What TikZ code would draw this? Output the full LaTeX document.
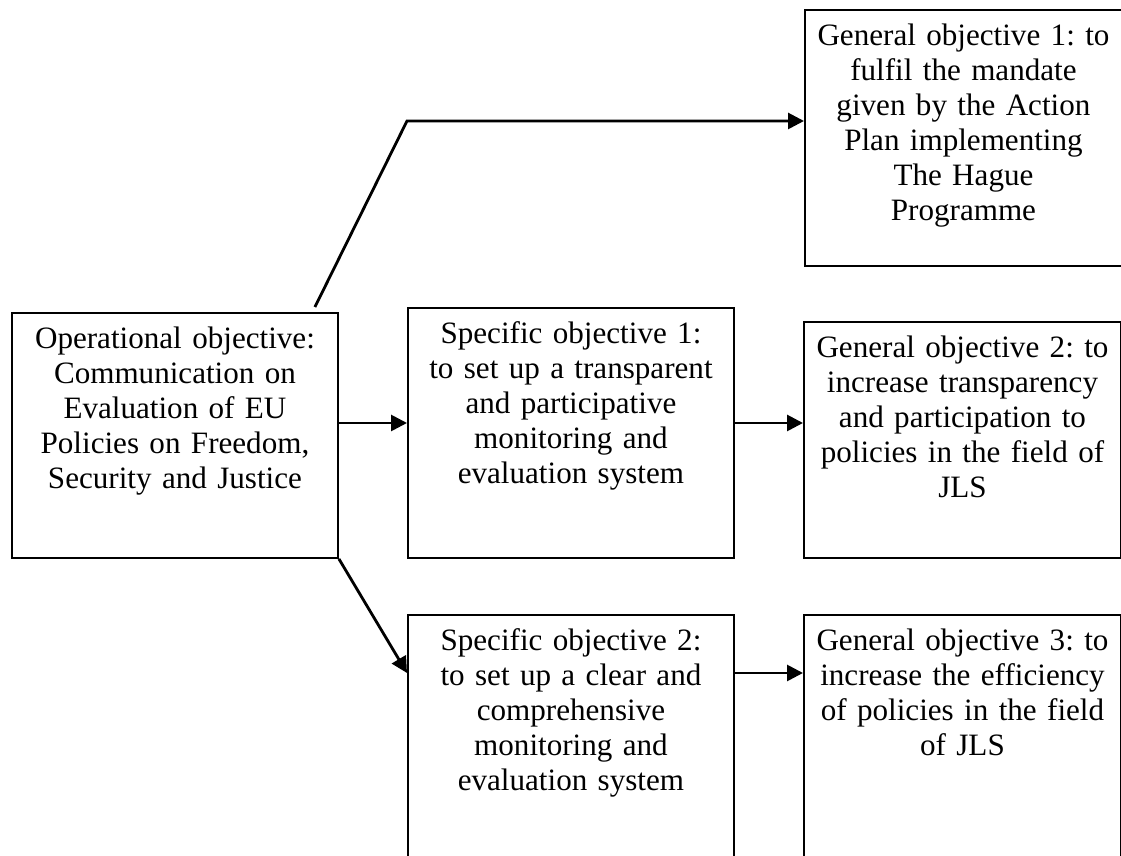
\documentclass[tikz,border=0pt]{standalone}
\usepackage{fontspec}
\setmainfont{Liberation Serif}
\usetikzlibrary{arrows.meta}
\frenchspacing

\begin{document}
\begin{tikzpicture}[
    font=\fontsize{17.7pt}{19.9pt}\selectfont,
    box/.style={draw, line width=1.1pt, align=center, text width=6.52cm, inner sep=0pt, anchor=north west, text height=0.72cm},
    genbox/.style={box, text width=6.34cm},
    arr/.style={line width=1.6pt, -{Triangle[length=0.32cm,width=0.32cm]}}
  ]
  \useasboundingbox (0,0) rectangle (22.42,17.12);
  \clip (0,0) rectangle (22.42,17.12);

  \node[box, text depth=4.18cm] (op) at (0.22,10.88) {Operational objective:\\Communication on\\Evaluation of EU\\Policies on Freedom,\\Security and Justice};
  \node[box, text depth=4.28cm] (sp1) at (8.14,10.98) {Specific objective 1:\\to set up a transparent\\and participative\\monitoring and\\evaluation system};
  \node[box, text depth=4.5cm] (sp2) at (8.14,4.84) {Specific objective 2:\\to set up a clear and\\comprehensive\\monitoring and\\evaluation system};

  \node[genbox, text depth=4.40cm] (gen1) at (16.08,16.94) {General objective 1: to\\fulfil the mandate\\given by the Action\\Plan implementing\\The Hague\\Programme};
  \node[genbox, text depth=4.00cm] (gen2) at (16.06,10.70) {General objective 2: to\\increase transparency\\and participation to\\policies in the field of\\JLS};
  \node[genbox, text depth=4.5cm] (gen3) at (16.06,4.84) {General objective 3: to\\increase the efficiency\\of policies in the field\\of JLS};

  \coordinate (bend) at (8.14,14.70);
  \coordinate (mid) at (0,8.66);
  \coordinate (low) at (0,3.66);

  \draw[arr] (op.north east) ++(-0.48,0.1) -- (bend) -- (bend -| gen1.west);
  \draw[arr] (mid -| op.east) -- (mid -| sp1.west);
  \draw[arr] (mid -| sp1.east) -- (mid -| gen2.west);
  \draw[arr] (op.south east) -- (low -| sp2.west);
  \draw[arr] (low -| sp2.east) -- (low -| gen3.west);
\end{tikzpicture}
\end{document}
